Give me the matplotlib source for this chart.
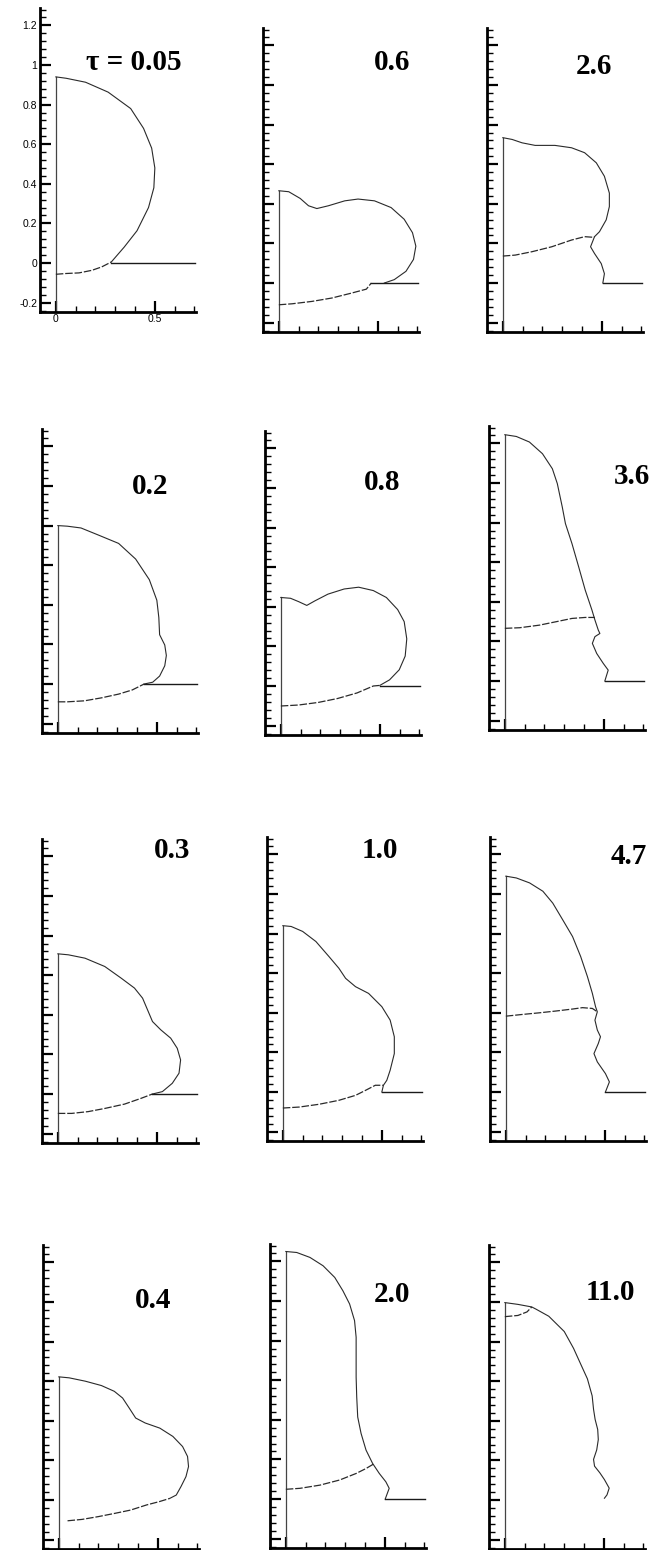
import matplotlib
matplotlib.use("Agg")
import matplotlib.pyplot as plt
from matplotlib.ticker import MultipleLocator, NullFormatter

# droplet / substrate contours (x = r, y = z)
labels = ["\u03c4 = 0.05", "0.2", "0.3", "0.4",
          "0.6", "0.8", "1.0", "2.0",
          "2.6", "3.6", "4.7", "11.0"]

t005_out_x = [0, 0.052, 0.15, 0.264, 0.378, 0.443, 0.484, 0.5, 0.495, 0.468, 0.41, 0.345, 0.28]
t005_out_y = [0.94, 0.933, 0.913, 0.863, 0.78, 0.68, 0.58, 0.48, 0.38, 0.28, 0.163, 0.08, 0.005]
t005_in_x = [0, 0.052, 0.117, 0.182, 0.231, 0.28]
t005_in_y = [-0.057, -0.053, -0.05, -0.037, -0.02, 0.005]

t02_out_x = [0, 0.048, 0.117, 0.203, 0.307, 0.393, 0.462, 0.5, 0.51, 0.514, 0.54, 0.548, 0.54, 0.514, 0.479, 0.436]
t02_out_y = [0.8, 0.797, 0.788, 0.753, 0.71, 0.631, 0.527, 0.423, 0.336, 0.249, 0.197, 0.144, 0.092, 0.04, 0.009, 0.0]
t02_in_x = [0, 0.048, 0.134, 0.22, 0.307, 0.376, 0.436]
t02_in_y = [-0.09, -0.09, -0.085, -0.07, -0.051, -0.03, 0.0]

t03_out_x = [0, 0.053, 0.137, 0.237, 0.32, 0.387, 0.428, 0.453, 0.478, 0.52, 0.57, 0.603, 0.62, 0.612, 0.578, 0.528, 0.478]
t03_out_y = [0.708, 0.703, 0.686, 0.644, 0.585, 0.535, 0.484, 0.425, 0.366, 0.324, 0.282, 0.231, 0.172, 0.105, 0.054, 0.012, 0.0]
t03_in_x = [0, 0.07, 0.153, 0.237, 0.337, 0.42, 0.478]
t03_in_y = [-0.098, -0.098, -0.089, -0.073, -0.051, -0.022, 0.0]

t04_out_x = [0, 0.052, 0.134, 0.215, 0.28, 0.322, 0.355, 0.388, 0.436, 0.51, 0.576, 0.625, 0.65, 0.655, 0.642, 0.617, 0.593, 0.56]
t04_out_y = [0.622, 0.617, 0.6, 0.578, 0.549, 0.515, 0.465, 0.414, 0.389, 0.363, 0.321, 0.27, 0.22, 0.169, 0.118, 0.068, 0.025, 0.008]
t04_in_x = [0.044, 0.117, 0.199, 0.28, 0.362, 0.443, 0.508, 0.56]
t04_in_y = [-0.105, -0.098, -0.084, -0.068, -0.051, -0.025, -0.008, 0.008]

t06_out_x = [0, 0.05, 0.108, 0.15, 0.192, 0.25, 0.333, 0.4, 0.483, 0.567, 0.633, 0.675, 0.692, 0.68, 0.642, 0.583, 0.533]
t06_out_y = [0.466, 0.461, 0.427, 0.39, 0.376, 0.39, 0.415, 0.424, 0.415, 0.381, 0.322, 0.254, 0.186, 0.119, 0.059, 0.017, 0.0]
t06_in_x = [0, 0.067, 0.167, 0.267, 0.367, 0.442, 0.467]
t06_in_y = [-0.11, -0.105, -0.093, -0.076, -0.051, -0.031, 0.0]

t08_out_x = [0, 0.049, 0.09, 0.131, 0.172, 0.238, 0.32, 0.393, 0.467, 0.533, 0.59, 0.623, 0.636, 0.628, 0.598, 0.549, 0.5]
t08_out_y = [0.447, 0.443, 0.426, 0.407, 0.43, 0.464, 0.49, 0.499, 0.482, 0.447, 0.386, 0.325, 0.238, 0.151, 0.082, 0.031, 0.003]
t08_in_x = [0, 0.09, 0.189, 0.287, 0.385, 0.467, 0.5]
t08_in_y = [-0.101, -0.096, -0.083, -0.063, -0.035, 0.0, 0.003]

t10_out_x = [0, 0.042, 0.1, 0.167, 0.233, 0.283, 0.317, 0.367, 0.433, 0.5, 0.542, 0.563, 0.563, 0.542, 0.525, 0.508, 0.5]
t10_out_y = [0.84, 0.836, 0.811, 0.76, 0.684, 0.625, 0.574, 0.532, 0.498, 0.431, 0.363, 0.279, 0.194, 0.11, 0.059, 0.034, 0.0]
t10_in_x = [0, 0.083, 0.183, 0.283, 0.367, 0.417, 0.467, 0.508]
t10_in_y = [-0.081, -0.076, -0.062, -0.042, -0.017, 0.008, 0.034, 0.034]

t20_out_x = [0, 0.055, 0.122, 0.188, 0.247, 0.288, 0.322, 0.347, 0.355, 0.355, 0.355, 0.358, 0.363, 0.38, 0.405, 0.438, 0.472, 0.505, 0.522, 0.502]
t20_out_y = [1.25, 1.245, 1.22, 1.178, 1.119, 1.052, 0.985, 0.901, 0.817, 0.716, 0.616, 0.515, 0.414, 0.331, 0.247, 0.18, 0.129, 0.087, 0.054, 0.0]
t20_in_x = [0, 0.072, 0.172, 0.272, 0.355, 0.405, 0.442]
t20_in_y = [0.049, 0.054, 0.07, 0.096, 0.129, 0.154, 0.176]

t26_out_x = [0, 0.047, 0.097, 0.163, 0.263, 0.347, 0.413, 0.472, 0.513, 0.538, 0.538, 0.522, 0.488, 0.463, 0.443, 0.463, 0.497, 0.513, 0.505]
t26_out_y = [0.734, 0.725, 0.708, 0.695, 0.695, 0.683, 0.658, 0.607, 0.539, 0.454, 0.386, 0.319, 0.259, 0.234, 0.183, 0.149, 0.098, 0.047, 0.0]
t26_in_x = [0, 0.063, 0.147, 0.247, 0.347, 0.413, 0.455, 0.463]
t26_in_y = [0.136, 0.141, 0.158, 0.183, 0.217, 0.234, 0.231, 0.234]

t36_out_x = [0, 0.058, 0.124, 0.19, 0.24, 0.265, 0.29, 0.306, 0.339, 0.373, 0.406, 0.44, 0.455, 0.472, 0.48, 0.455, 0.442, 0.464, 0.497, 0.522, 0.505]
t36_out_y = [1.244, 1.235, 1.207, 1.148, 1.072, 0.997, 0.879, 0.795, 0.694, 0.576, 0.459, 0.358, 0.308, 0.257, 0.24, 0.224, 0.19, 0.139, 0.089, 0.055, 0.0]
t36_in_x = [0, 0.075, 0.174, 0.257, 0.339, 0.406, 0.455]
t36_in_y = [0.266, 0.269, 0.282, 0.299, 0.316, 0.321, 0.321]

t47_out_x = [0, 0.053, 0.12, 0.187, 0.237, 0.287, 0.337, 0.378, 0.412, 0.437, 0.453, 0.462, 0.45, 0.462, 0.478, 0.467, 0.445, 0.462, 0.503, 0.523, 0.503]
t47_out_y = [1.09, 1.081, 1.056, 1.014, 0.954, 0.87, 0.785, 0.684, 0.583, 0.498, 0.431, 0.405, 0.363, 0.313, 0.279, 0.245, 0.194, 0.152, 0.093, 0.051, 0.0]
t47_in_x = [0, 0.087, 0.17, 0.253, 0.337, 0.387, 0.437, 0.462]
t47_in_y = [0.383, 0.392, 0.4, 0.409, 0.419, 0.426, 0.422, 0.405]

t110_out_x = [0, 0.066, 0.136, 0.159, 0.222, 0.3, 0.347, 0.386, 0.417, 0.441, 0.448, 0.456, 0.469, 0.472, 0.464, 0.448, 0.453, 0.48, 0.503, 0.527, 0.516, 0.503]
t110_out_y = [0.997, 0.988, 0.975, 0.963, 0.928, 0.851, 0.766, 0.68, 0.612, 0.526, 0.458, 0.407, 0.356, 0.305, 0.253, 0.205, 0.171, 0.137, 0.103, 0.06, 0.026, 0.009]
t110_in_x = [0, 0.066, 0.112, 0.136]
t110_in_y = [0.926, 0.932, 0.95, 0.975]

outer_x = [t005_out_x, t02_out_x, t03_out_x, t04_out_x, t06_out_x, t08_out_x,
           t10_out_x, t20_out_x, t26_out_x, t36_out_x, t47_out_x, t110_out_x]
outer_y = [t005_out_y, t02_out_y, t03_out_y, t04_out_y, t06_out_y, t08_out_y,
           t10_out_y, t20_out_y, t26_out_y, t36_out_y, t47_out_y, t110_out_y]
inner_x = [t005_in_x, t02_in_x, t03_in_x, t04_in_x, t06_in_x, t08_in_x,
           t10_in_x, t20_in_x, t26_in_x, t36_in_x, t47_in_x, t110_in_x]
inner_y = [t005_in_y, t02_in_y, t03_in_y, t04_in_y, t06_in_y, t08_in_y,
           t10_in_y, t20_in_y, t26_in_y, t36_in_y, t47_in_y, t110_in_y]

# where the flat substrate surface starts (None = not drawn)
substrate_start = [0.28, 0.436, 0.478, None, 0.467, 0.5, 0.5, 0.502, 0.505, 0.505, 0.503, None]
substrate_end = 0.705

# ---- layout (pixels of the 658x1550 page) ----
W, H = 658, 1550
S = 198.0                      # pixels per unit length
XMIN, XMAX = -0.08, 0.72
YMIN, YMAX = -0.245, 1.29
spine_px = [40, 42, 42, 43, 263, 265, 267, 270, 487, 489, 490, 489]
zero_px = [263, 684, 1094, 1500, 283, 686, 1092, 1499, 283, 681, 1092, 1500]
label_xy = [(134, 63), (150, 487), (172, 851), (153, 1301),
            (392, 63), (382, 482), (380, 851), (392, 1295),
            (594, 67), (632, 477), (629, 857), (610, 1293)]

fig = plt.figure(figsize=(W / 100, H / 100), dpi=100)

for i in range(12):
    left = spine_px[i] / W
    bottom = 1 - (zero_px[i] - YMIN * S) / H
    ax = fig.add_axes([left, bottom, (XMAX - XMIN) * S / W, (YMAX - YMIN) * S / H])
    ax.set_xlim(XMIN, XMAX)
    ax.set_ylim(YMIN, YMAX)
    ax.patch.set_alpha(0)

    # symmetry axis, droplet free surface, lower interface, substrate
    ax.plot([0, 0], [YMIN, outer_y[i][0]], color="#444444", lw=0.9, zorder=2)
    ax.plot(outer_x[i], outer_y[i], color="#2a2a2a", lw=0.8)
    ax.plot(inner_x[i], inner_y[i], color="#2a2a2a", lw=0.9, ls=(0, (6, 1.5)))
    if substrate_start[i] is not None:
        ax.plot([substrate_start[i], substrate_end], [0, 0], color="#1a1a1a", lw=1.0)

    for s in ("top", "right"):
        ax.spines[s].set_visible(False)
    ax.spines["left"].set_linewidth(2.0)
    ax.spines["bottom"].set_linewidth(2.0)
    ax.spines["left"].set_bounds(YMIN, YMAX)
    ax.spines["bottom"].set_bounds(XMIN, 0.71)

    ax.yaxis.set_major_locator(MultipleLocator(0.2))
    ax.yaxis.set_minor_locator(MultipleLocator(0.04))
    ax.xaxis.set_major_locator(MultipleLocator(0.5))
    ax.xaxis.set_minor_locator(MultipleLocator(0.1))
    ax.tick_params(which="major", direction="in", length=8, width=1.6, pad=2)
    ax.tick_params(which="minor", direction="in", length=4, width=1.0)

    if i == 0:
        ax.set_yticks([-0.2, 0, 0.2, 0.4, 0.6, 0.8, 1.0, 1.2])
        ax.set_yticklabels(["-0.2", "0", "0.2", "0.4", "0.6", "0.8", "1", "1.2"])
        ax.set_xticks([0, 0.5])
        ax.set_xticklabels(["0", "0.5"])
        for t in ax.get_xticklabels() + ax.get_yticklabels():
            t.set_fontsize(7.5)
            t.set_fontfamily("Liberation Sans")
    else:
        ax.xaxis.set_major_formatter(NullFormatter())
        ax.yaxis.set_major_formatter(NullFormatter())

    lx, ly = label_xy[i]
    fig.text(lx / W, 1 - ly / H, labels[i], ha="center", va="center",
             fontsize=21, family="Liberation Serif", fontweight="bold",
             color="black")

fig.savefig("out.png", dpi=100)
